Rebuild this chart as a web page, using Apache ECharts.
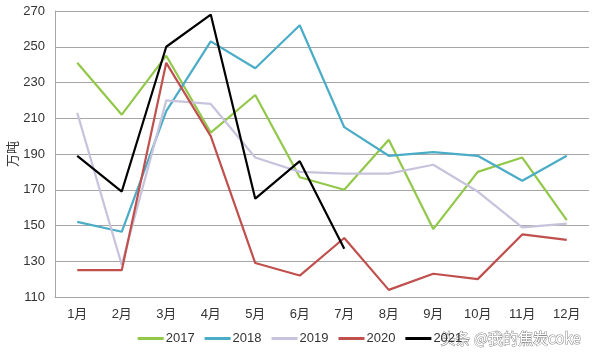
<!DOCTYPE html>
<html>
<head>
<meta charset="utf-8">
<script src="https://cdn.jsdelivr.net/npm/echarts@6/dist/echarts.min.js"></script>
<style>html,body{margin:0;padding:0;background:#fff}#c{width:600px;height:354px}</style>
</head>
<body>
<div id="c"></div>
<script>
var months = ['1月','2月','3月','4月','5月','6月','7月','8月','9月','10月','11月','12月'];
var s2017 = [241, 212, 245, 202, 223, 177, 170, 198, 148, 180, 188, 153];
var s2018 = [152, 146.5, 214, 253, 238, 262, 205, 189, 191, 189, 175, 189];
var s2019 = [213, 128, 220, 218, 188, 180, 179, 179, 184, 169, 149, 151];
var s2020 = [125, 125, 241, 200, 129, 122, 143, 114, 123, 120, 145, 142];
var s2021 = [189, 169, 250, 268, 165, 186, 137];
var seriesNames = ['2017','2018','2019','2020','2021'];
var seriesColors = ['#92c84a','#4aacc6','#c8c3dc','#c0504d','#000000'];
var seriesData = [s2017, s2018, s2019, s2020, s2021];

var chart = echarts.init(document.getElementById('c'), null, {renderer:'canvas'});
var font = '"Liberation Sans", "Noto Sans CJK SC", sans-serif';
chart.setOption({
  backgroundColor: '#ffffff',
  animation: false,
  grid: {left: 55, right: 11, top: 11, bottom: 57, containLabel: false, outerBoundsMode: 'none'},
  legend: {
    data: seriesNames.map(function(n){ return {name: n, icon: 'rect'}; }),
    bottom: 4,
    left: 'center',
    itemWidth: 26,
    itemHeight: 3,
    itemGap: 10,
    textStyle: {fontFamily: font, fontSize: 13, color: '#333', padding: [0,0,0,-3]}
  },
  xAxis: {
    type: 'category',
    data: months,
    boundaryGap: true,
    axisLine: {lineStyle: {color: '#a6a6a6', width: 1}},
    axisTick: {show: false},
    axisLabel: {fontFamily: font, fontSize: 13, color: '#333', margin: 11}
  },
  yAxis: {
    type: 'value',
    min: 110, max: 270, interval: 20,
    name: '万吨',
    nameLocation: 'middle',
    nameRotate: 90,
    nameGap: 35,
    nameMoveOverlap: false,
    nameTextStyle: {fontFamily: font, fontSize: 13, color: '#333'},
    axisLine: {show: true, lineStyle: {color: '#a6a6a6'}},
    axisTick: {show: false},
    axisLabel: {fontFamily: font, fontSize: 13, color: '#333', margin: 10},
    splitLine: {lineStyle: {color: '#a6a6a6', width: 1}}
  },
  series: seriesNames.map(function(n, i){
    return {
      name: n, type: 'line', data: seriesData[i],
      symbol: 'none', showSymbol: false,
      lineStyle: {color: seriesColors[i], width: 2.2},
      itemStyle: {color: seriesColors[i]}
    };
  }),
  graphic: [{
    type: 'text', left: 440, top: 330,
    style: {text: '头条 @我的焦炭coke', font: '15px "Noto Sans CJK SC", sans-serif', fill: '#ffffff', stroke: '#8a8a8a', lineWidth: 1}
  }]
});
</script>
</body>
</html>
